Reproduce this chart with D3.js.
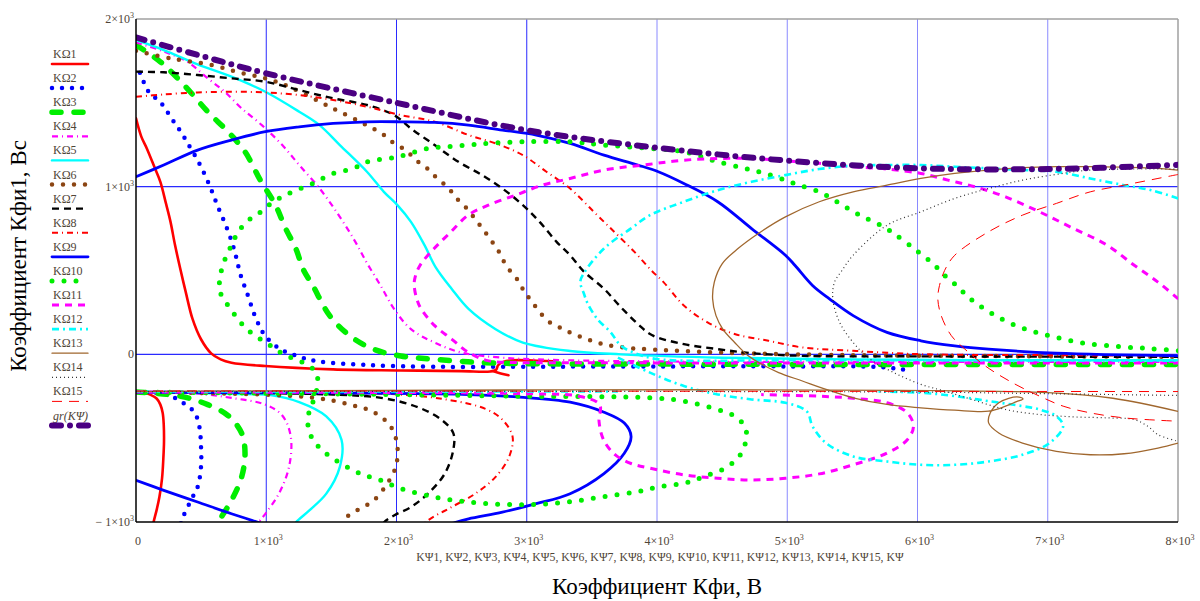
<!DOCTYPE html>
<html>
<head>
<meta charset="utf-8">
<script src="https://cdn.jsdelivr.net/npm/d3@7"></script>
<style>
body { margin: 0; background: #fff; }
svg text { font-family: "Liberation Serif", "Times New Roman", serif; }
</style>
</head>
<body>
<svg id="chart" width="1200" height="601"></svg>
<script>
// axis ticks
var xTicks = [0, 1000, 2000, 3000, 4000, 5000, 6000, 7000, 8000];
var yTicks = [-1000, 0, 1000, 2000];
var xGrid = [1000, 2000, 3000, 4000, 5000, 6000, 7000];
var yGrid = [0, 1000];

var seriesNames = ["KΩ1", "KΩ2", "KΩ3", "KΩ4", "KΩ5", "KΩ6", "KΩ7", "KΩ8",
  "KΩ9", "KΩ10", "KΩ11", "KΩ12", "KΩ13", "KΩ14", "KΩ15", "gr(KΨ)"];
var xVarText = "KΨ1, KΨ2, KΨ3, KΨ4, KΨ5, KΨ6, KΨ7, KΨ8, KΨ9, KΨ10, KΨ11, KΨ12, KΨ13, KΨ14, KΨ15, KΨ";
var xTitle = "Коэффициент Кфи, В";
var yTitle = "Коэффициент Кфи1, Вс";

// traces, [KΨ, Kфи1] pairs
var k1Up = [[0,1407],[40,1300],[83,1228],[140,1120],[187,1029],[230,900],[265,790],[300,650],[343,500],[382,371],[434,211],[499,90],[577,6],[650,-30],[733,-50],[993,-70],[1513,-90],[2033,-96],[2500,-100],[2720,-102],[2765,-92],[2780,-65],[2820,-45],[2900,-35],[3050,-37],[3200,-42]];
var k1Hook = [[2740,-100],[2800,-115],[2860,-125]];
var k1Low = [[0,-225],[60,-228],[109,-240],[160,-265],[187,-300],[205,-350],[213,-420],[215,-520],[210,-620],[200,-740],[180,-850],[161,-920],[135,-1000],[120,-1050]];

var k2Up = [[30,1680],[109,1552],[174,1517],[239,1447],[291,1387],[343,1328],[395,1262],[486,1138],[564,1009],[629,880],[694,760],[740,660],[772,571],[800,480],[850,371],[928,201],[993,110],[1110,30],[1253,-14],[1383,-40],[1773,-64],[2293,-74],[2970,-74],[4000,-72],[5000,-72],[5700,-75],[5870,-88],[5950,-100]];
var k2Low = [[0,-225],[213,-235],[343,-280],[447,-345],[486,-430],[499,-550],[499,-671],[473,-791],[421,-871],[356,-981],[330,-1050]];

var k3Up = [[0,1845],[187,1745],[369,1606],[551,1447],[707,1327],[837,1208],[954,1039],[1071,890],[1149,750],[1227,631],[1285,505],[1357,411],[1487,231],[1643,110],[1825,30],[2033,-10],[2293,-30],[2683,-50],[3073,-56],[4000,-58],[5000,-60],[6500,-60],[8000,-60]];
var k3Low = [[0,-225],[343,-250],[551,-300],[707,-365],[811,-470],[837,-590],[811,-731],[733,-871],[629,-1003],[590,-1060]];

var k4Up = [[0,1860],[200,1810],[395,1745],[551,1646],[681,1566],[811,1467],[966,1367],[1123,1248],[1253,1129],[1409,990],[1539,850],[1669,691],[1773,545],[1877,411],[1981,271],[2111,150],[2293,70],[2501,10],[2813,-20],[3300,-35],[4000,-42],[5000,-45],[6500,-45],[8000,-45]];
var k4Low = [[0,-225],[473,-235],[733,-260],[993,-300],[1123,-365],[1188,-490],[1175,-671],[1097,-831],[993,-951],[941,-1003],[900,-1060]];

var k5Up = [[0,1875],[213,1815],[473,1730],[733,1656],[993,1566],[1253,1447],[1409,1367],[1565,1248],[1773,1089],[1903,969],[2007,890],[2111,790],[2215,651],[2300,520],[2423,391],[2553,271],[2761,150],[2970,70],[3333,20],[3723,0],[4500,-20],[5500,-30],[6500,-35],[8000,-35]];
var k5Low = [[0,-225],[733,-235],[1045,-245],[1253,-285],[1461,-370],[1578,-510],[1565,-671],[1461,-831],[1331,-931],[1227,-1003],[1180,-1060]];

var k6Up = [[0,1810],[265,1765],[577,1726],[800,1680],[1000,1645],[1175,1596],[1409,1507],[1565,1447],[1747,1377],[1903,1308],[1981,1258],[2072,1218],[2150,1158],[2236,1109],[2306,1055],[2397,993],[2462,930],[2540,870],[2605,806],[2670,740],[2735,671],[2787,611],[2826,551],[2878,492],[2943,431],[2982,371],[3034,321],[3099,251],[3177,191],[3255,160],[3333,130],[3463,90],[3593,60],[3749,40],[3931,30],[4500,10],[5500,-5],[6500,-10],[8000,-15]];
var k6Low = [[0,-225],[993,-240],[1383,-260],[1643,-300],[1825,-345],[1955,-430],[2007,-550],[1994,-671],[1929,-771],[1825,-871],[1695,-931],[1604,-981],[1570,-1060]];

var k7Up = [[0,1686],[213,1682],[473,1666],[733,1646],[993,1626],[1253,1576],[1513,1527],[1773,1487],[1981,1427],[2111,1347],[2293,1248],[2475,1148],[2657,1069],[2813,989],[2970,890],[3099,790],[3229,671],[3333,591],[3437,495],[3593,391],[3723,281],[3853,181],[3960,115],[4206,61],[4466,31],[4726,7],[5116,-9],[6000,-12],[8000,-15]];
var k7Low = [[0,-225],[1513,-240],[1903,-262],[2163,-315],[2345,-390],[2436,-470],[2436,-570],[2371,-711],[2241,-831],[2111,-911],[1981,-961],[1903,-1003],[1860,-1060]];

var k8Up = [[0,1536],[213,1550],[473,1562],[733,1566],[993,1562],[1253,1546],[1513,1517],[1773,1477],[2033,1427],[2293,1387],[2553,1308],[2761,1258],[2970,1188],[3151,1089],[3333,989],[3515,850],[3671,731],[3827,611],[3957,500],[4050,431],[4206,291],[4388,191],[4596,121],[4856,81],[5116,41],[5506,21],[6026,1],[7000,-5],[8000,-8]];
var k8Low = [[0,-225],[2033,-240],[2423,-275],[2683,-325],[2813,-390],[2891,-490],[2865,-610],[2761,-731],[2605,-831],[2423,-911],[2241,-991],[2150,-1060]];

var k9Up = [[0,1059],[213,1129],[473,1218],[733,1278],[993,1328],[1253,1357],[1513,1377],[1773,1387],[2033,1387],[2293,1383],[2553,1367],[2813,1337],[3073,1308],[3333,1258],[3593,1188],[3853,1129],[4010,1089],[4206,1019],[4466,910],[4726,750],[4986,591],[5060,530],[5194,411],[5324,331],[5506,231],[5766,131],[6026,81],[6286,51],[6546,31],[7066,7],[8000,-9]];
var k9Low = [[0,-225],[2553,-240],[2943,-255],[3333,-285],[3593,-345],[3749,-410],[3801,-490],[3749,-590],[3593,-711],[3333,-831],[3073,-891],[2813,-941],[2553,-981],[2449,-1003],[2350,-1030]];
var k9Tail = [[0,-751],[213,-811],[473,-881],[733,-951],[941,-1003],[1050,-1030]];

var k10Up = [[8002,21],[7768,35],[7534,47],[7274,67],[7066,101],[6910,131],[6754,171],[6598,231],[6468,295],[6377,351],[6299,411],[6208,471],[6130,532],[5974,631],[5818,721],[5740,760],[5558,830],[5402,900],[5246,969],[5090,1009],[4986,1039],[4830,1079],[4674,1109],[4440,1154],[4206,1208],[3957,1228],[3593,1248],[3333,1268],[2995,1268],[2709,1258],[2553,1248],[2397,1238],[2241,1228],[2007,1178],[1773,1148],[1669,1109],[1513,1079],[1357,1019],[1201,969],[1097,930],[1019,890],[941,840],[863,800],[785,731],[733,650],[680,560],[650,480],[640,400],[656,351],[707,291],[772,221],[837,161],[915,110],[1006,66],[1071,30],[1149,-6],[1227,-30],[1331,-70],[1383,-110],[1396,-170],[1370,-260],[1330,-340],[1320,-420],[1345,-490],[1400,-550],[1513,-621],[1721,-711],[1877,-751],[2033,-801],[2293,-851],[2553,-881],[2813,-895],[3073,-895],[3333,-879],[3593,-849],[3853,-819],[4024,-789],[4206,-769],[4362,-729],[4544,-669],[4648,-589],[4687,-489],[4674,-429],[4596,-369],[4466,-329],[4206,-279],[3946,-259],[3000,-250],[2000,-240],[1000,-232],[0,-225]];

var k11Up = [[8002,331],[7846,431],[7664,531],[7456,651],[7196,751],[6936,850],[6676,939],[6442,999],[6234,1039],[6026,1079],[5766,1105],[5506,1119],[5246,1139],[4986,1154],[4726,1168],[4466,1168],[4206,1158],[3946,1134],[3593,1099],[3333,1049],[3120,1009],[2913,949],[2705,890],[2549,830],[2419,731],[2289,631],[2180,530],[2140,450],[2137,400],[2160,320],[2189,271],[2293,171],[2423,91],[2553,11],[2709,-39],[2943,-49],[3500,-50],[4500,-52],[5500,-52],[6500,-52],[8000,-52]];
var k11Low = [[0,-225],[3000,-235],[3400,-250],[3560,-300],[3555,-400],[3590,-510],[3680,-600],[3801,-651],[3946,-679],[4206,-719],[4466,-739],[4726,-749],[4986,-739],[5246,-713],[5506,-659],[5766,-589],[5922,-509],[5969,-429],[5922,-349],[5766,-289],[5506,-262],[5246,-250],[4800,-240]];

var k12Up = [[8002,930],[7794,979],[7586,1009],[7326,1049],[7066,1089],[6806,1099],[6546,1109],[6286,1119],[6026,1129],[5766,1129],[5506,1125],[5246,1105],[4986,1069],[4726,1029],[4466,979],[4206,910],[3946,830],[3801,751],[3593,631],[3437,482],[3411,431],[3440,360],[3463,311],[3541,211],[3645,131],[3723,51],[3853,1],[4010,-29],[5000,-35],[6000,-35],[8000,-38]];
var k12Band = [[0,-222],[3700,-222]];
var k12Low = [[3700,-20],[3946,-109],[4206,-189],[4466,-239],[4726,-269],[4986,-289],[5150,-340],[5194,-429],[5298,-529],[5506,-609],[5766,-639],[6026,-659],[6286,-659],[6546,-639],[6806,-599],[7014,-529],[7118,-429],[7066,-369],[6936,-329],[6806,-309],[6546,-279],[6286,-249],[6026,-229],[5700,-222]];

var k13Up = [[8002,1099],[7846,1109],[7326,1119],[7066,1119],[6806,1113],[6546,1099],[6286,1079],[6026,1049],[5766,1009],[5506,969],[5246,910],[4986,820],[4778,721],[4622,631],[4500,540],[4440,431],[4427,331],[4453,231],[4505,151],[4596,71],[4700,-9],[4804,-59],[4934,-109],[5116,-159],[5298,-209],[5506,-259],[5766,-299],[6026,-319],[6286,-333],[6546,-339],[6676,-309],[6760,-282],[6810,-266],[6780,-255],[6700,-262],[6624,-289],[6559,-349],[6546,-409],[6624,-469],[6806,-529],[7066,-579],[7326,-599],[7586,-593],[7846,-559],[8002,-529]];
var k13Band = [[0,-222],[7000,-228],[7500,-262],[8000,-340]];

var k14Up = [[8002,1105],[7326,1099],[7066,1073],[6806,1039],[6546,989],[6286,930],[6026,850],[5766,770],[5506,591],[5420,500],[5363,431],[5350,331],[5402,191],[5506,71],[5636,-29],[5818,-109],[6026,-179],[6208,-219],[6416,-269],[6676,-329],[6936,-359],[7196,-373],[7456,-379],[7664,-389],[7768,-429],[7846,-479],[8002,-519]];
var k14Band = [[0,-222],[6000,-225],[7000,-235],[8000,-245]];

var k15Up = [[8002,1073],[7846,1049],[7586,1009],[7326,969],[7066,900],[6806,830],[6546,731],[6286,591],[6208,500],[6169,411],[6156,331],[6182,231],[6260,111],[6364,31],[6520,-69],[6728,-169],[6936,-249],[7118,-309],[7326,-349],[7586,-379],[7846,-393],[8002,-399]];
var k15Band = [[0,-218],[8000,-222]];

var grKpsi = [[0,1890],[500,1780],[1000,1676],[2000,1500],[3000,1337],[4000,1232],[5000,1155],[6000,1110],[7000,1105],[8000,1130]];

var seriesParts = [
  [k1Up, k1Hook, k1Low], [k2Up, k2Low], [k3Up, k3Low], [k4Up, k4Low],
  [k5Up, k5Low], [k6Up, k6Low], [k7Up, k7Low], [k8Up, k8Low],
  [k9Up, k9Low, k9Tail], [k10Up], [k11Up, k11Low], [k12Up, k12Band, k12Low],
  [k13Up, k13Band], [k14Up, k14Band], [k15Up, k15Band], [grKpsi]
];

// trace styles (Mathcad defaults)
var styles = [
  { color: "#ff0000", width: 2.6, dash: null, cap: "round" },
  { color: "#0000ff", width: 4.5, dash: "0,10", cap: "round" },
  { color: "#00ee00", width: 5.5, dash: "9,13", cap: "round" },
  { color: "#ff00ff", width: 2.2, dash: "6,4,1,4", cap: "butt" },
  { color: "#00ffff", width: 2.4, dash: null, cap: "round" },
  { color: "#8b4513", width: 4.5, dash: "0,11", cap: "round" },
  { color: "#000000", width: 2.4, dash: "7,5", cap: "butt" },
  { color: "#ff0000", width: 2, dash: "6,4,1,4", cap: "butt" },
  { color: "#0000ff", width: 2.8, dash: null, cap: "round" },
  { color: "#00ee00", width: 5, dash: "0,12", cap: "round" },
  { color: "#ff00ff", width: 3, dash: "7,6", cap: "butt" },
  { color: "#00ffff", width: 2.6, dash: "7,4,2,4", cap: "butt" },
  { color: "#a0672e", width: 1.3, dash: null, cap: "round" },
  { color: "#333333", width: 1.2, dash: "1,3", cap: "butt" },
  { color: "#ff0000", width: 1, dash: "10,7", cap: "butt" },
  { color: "#4b0082", width: 6, dash: "9,9,0,9", cap: "round" }
];

var svg = d3.select("#chart");
var plotL = 136, plotR = 1178, plotT = 19, plotB = 522;
var x = d3.scaleLinear().domain([0, 8000]).range([plotL, plotR]);
var y = d3.scaleLinear().domain([-1000, 2000]).range([plotB, plotT]);
var tickColor = "#4f4538";

svg.append("defs").append("clipPath").attr("id", "plotclip")
  .append("rect")
  .attr("x", plotL).attr("y", plotT)
  .attr("width", plotR - plotL).attr("height", plotB - plotT);

// grid
svg.selectAll(".vgrid").data(xGrid).enter().append("line")
  .attr("x1", d => x(d)).attr("x2", d => x(d))
  .attr("y1", plotT).attr("y2", plotB)
  .attr("stroke", d => d >= 4000 ? "#8a8aff" : "#2a2aff")
  .attr("stroke-width", 1);
svg.selectAll(".hgrid").data(yGrid).enter().append("line")
  .attr("x1", plotL).attr("x2", plotR)
  .attr("y1", d => y(d)).attr("y2", d => y(d))
  .attr("stroke", "#2a2aff").attr("stroke-width", 1.2);

// frame
svg.append("line").attr("x1", plotL).attr("x2", plotR).attr("y1", plotT).attr("y2", plotT)
  .attr("stroke", "#a0a0a0").attr("stroke-width", 1.5);
svg.append("line").attr("x1", plotR).attr("x2", plotR).attr("y1", plotT).attr("y2", plotB)
  .attr("stroke", "#a0a0a0").attr("stroke-width", 1.5);

// traces
var line = d3.line()
  .x(d => x(d[0])).y(d => y(d[1]))
  .curve(d3.curveCatmullRom.alpha(0.5));

var traces = svg.append("g").attr("clip-path", "url(#plotclip)");
seriesParts.forEach(function(parts, i) {
  var st = styles[i];
  parts.forEach(function(pts) {
    traces.append("path")
      .attr("d", line(pts))
      .attr("fill", "none")
      .attr("stroke", st.color)
      .attr("stroke-width", st.width)
      .attr("stroke-linecap", st.cap)
      .attr("stroke-linejoin", "round")
      .attr("stroke-dasharray", st.dash);
  });
});

svg.append("line").attr("x1", plotL).attr("x2", plotL).attr("y1", plotT).attr("y2", plotB)
  .attr("stroke", "#000").attr("stroke-width", 1.5);
svg.append("line").attr("x1", plotL).attr("x2", plotR).attr("y1", plotB).attr("y2", plotB)
  .attr("stroke", "#000").attr("stroke-width", 1.5);

// tick labels like 1×10³
function tickText(sel, v) {
  if (v === 0) { sel.text("0"); return; }
  var m = v / 1000;
  sel.append("tspan").text((m < 0 ? "\u2212 " : "") + Math.abs(m) + "\u00d710");
  sel.append("tspan").attr("font-size", "8px").attr("dy", -5).text("3");
}

xTicks.forEach(function(v) {
  var t = svg.append("text")
    .attr("x", x(v) + 2).attr("y", 545)
    .attr("text-anchor", "middle")
    .attr("font-size", "12px").attr("fill", tickColor);
  tickText(t, v);
});
yTicks.forEach(function(v) {
  var t = svg.append("text")
    .attr("x", 134).attr("y", y(v) + 4)
    .attr("text-anchor", "end")
    .attr("font-size", "12px").attr("fill", tickColor);
  tickText(t, v);
});

svg.append("text").attr("x", 660).attr("y", 561)
  .attr("text-anchor", "middle").attr("font-size", "11.8px")
  .attr("fill", tickColor).text(xVarText);

svg.append("text").attr("x", 657).attr("y", 594)
  .attr("text-anchor", "middle").attr("font-size", "23px")
  .attr("fill", "#000").text(xTitle);

svg.append("text")
  .attr("transform", "translate(26,256) rotate(-90)")
  .attr("text-anchor", "middle").attr("font-size", "23px")
  .attr("fill", "#000").text(yTitle);

// legend
var legend = svg.append("g");
seriesNames.forEach(function(name, i) {
  var st = styles[i];
  var yy = 64 + i * 24.1;
  legend.append("text")
    .attr("x", 53).attr("y", yy - 6)
    .attr("font-size", "12px")
    .attr("font-style", i === 15 ? "italic" : null)
    .attr("fill", tickColor).text(name);
  legend.append("line")
    .attr("x1", 52).attr("x2", 88).attr("y1", yy).attr("y2", yy)
    .attr("stroke", st.color)
    .attr("stroke-width", st.width)
    .attr("stroke-linecap", st.cap)
    .attr("stroke-dasharray", st.dash);
});
</script>
</body>
</html>
